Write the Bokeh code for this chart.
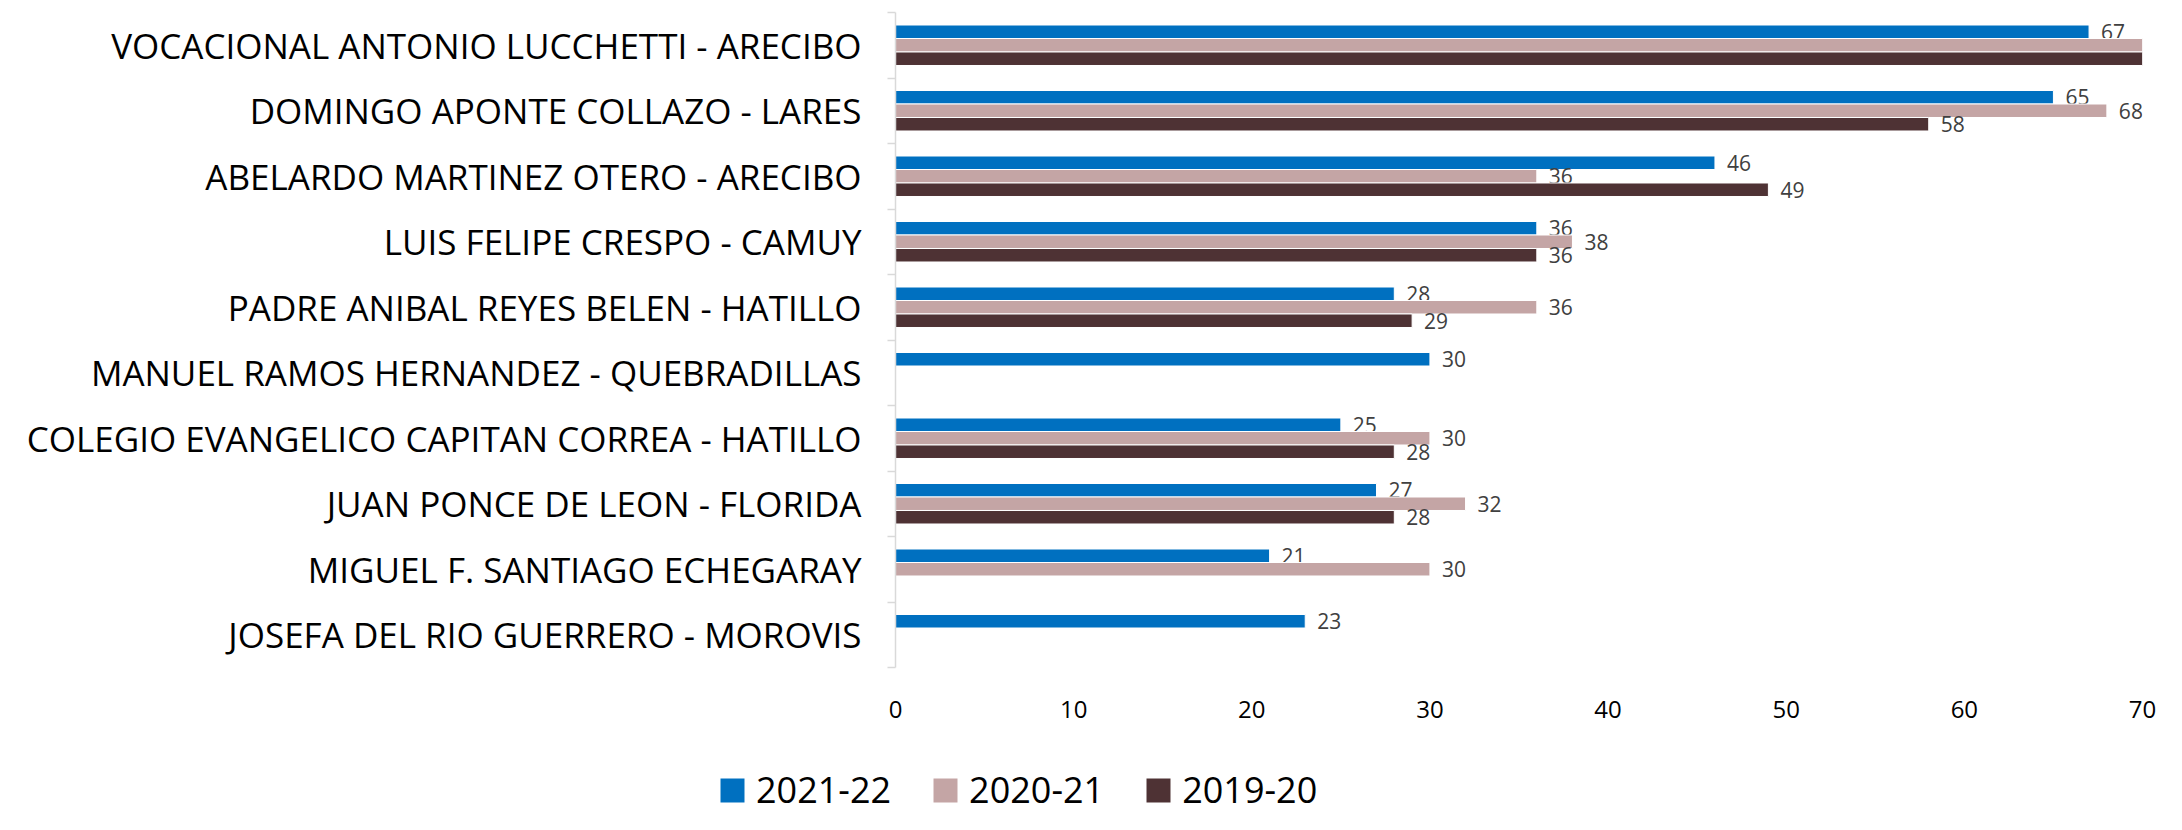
from bokeh.plotting import figure
from bokeh.layouts import column, row
from bokeh.models import (ColumnDataSource, FixedTicker, Legend, LegendItem, Range1d)
from bokeh.core.properties import value
from bokeh.embed import file_html
from bokeh.resources import INLINE

schools = [
    "VOCACIONAL ANTONIO LUCCHETTI - ARECIBO",
    "DOMINGO APONTE COLLAZO - LARES",
    "ABELARDO MARTINEZ OTERO - ARECIBO",
    "LUIS FELIPE CRESPO - CAMUY",
    "PADRE ANIBAL REYES BELEN - HATILLO",
    "MANUEL RAMOS HERNANDEZ - QUEBRADILLAS",
    "COLEGIO EVANGELICO CAPITAN CORREA - HATILLO",
    "JUAN PONCE DE LEON - FLORIDA",
    "MIGUEL F. SANTIAGO ECHEGARAY",
    "JOSEFA DEL RIO GUERRERO - MOROVIS",
]
s2021_22 = [67, 65, 46, 36, 28, 30, 25, 27, 21, 23]
s2020_21 = [72, 68, 36, 38, 36, None, 30, 32, 30, None]
s2019_20 = [72, 58, 49, 36, 29, None, 28, 28, None, None]
series_names = ["2021-22", "2020-21", "2019-20"]
series_values = [s2021_22, s2020_21, s2019_20]
colors = ["#0070C0", "#C4A5A5", "#4E3234"]
x_ticks = [0, 10, 20, 30, 40, 50, 60, 70]
x_max = 70

FONT = "Open Sans"
W = 2166
H_MAIN = 740
H_LEG = 74
n = len(schools)
centers = [n - i - 0.5 for i in range(n)]
bar_h = 0.206
offsets = [bar_h, 0.0, -bar_h]

p = figure(width=W, height=H_MAIN, output_backend="svg", toolbar_location=None,
           x_range=Range1d(0, x_max), y_range=Range1d(0, n),
           min_border_left=895, min_border_right=24,
           min_border_top=12, min_border_bottom=H_MAIN - 667)
p.outline_line_color = None
p.xgrid.visible = False
p.ygrid.visible = False
p.background_fill_color = "white"
p.border_fill_color = "white"

sources = []
for name, vals, col, off in zip(series_names, series_values, colors, offsets):
    ys, vs = [], []
    for c, v in zip(centers, vals):
        if v is None:
            continue
        ys.append(c + off)
        vs.append(v)
    src = ColumnDataSource(dict(y=ys, v=vs))
    sources.append(src)
    p.hbar(y="y", left=0, right="v", height=bar_h, source=src,
           fill_color=col, line_color="white", line_width=1)
    # data labels only for values inside the axis range (as in the original)
    ly = [y for y, v in zip(ys, vs) if v <= x_max]
    lv = [v for v in vs if v <= x_max]
    lsrc = ColumnDataSource(dict(y=ly, v=lv, lab=[str(v) for v in lv]))
    p.text(x="v", y="y", text="lab", source=lsrc, x_offset=12,
           text_baseline="middle", text_align="left",
           text_font=value(FONT), text_font_size="21px", text_color="#404040")

# y axis: labels at centers, tick marks at category boundaries
p.yaxis.ticker = FixedTicker(ticks=centers, minor_ticks=list(range(n + 1)))
p.yaxis.major_label_overrides = {c: s for c, s in zip(centers, schools)}
p.yaxis.major_tick_out = 0
p.yaxis.major_tick_in = 0
p.yaxis.minor_tick_out = 8
p.yaxis.minor_tick_in = 0
p.yaxis.minor_tick_line_color = "#D9D9D9"
p.yaxis.minor_tick_line_width = 1.5
p.yaxis.axis_line_color = "#D9D9D9"
p.yaxis.axis_line_width = 1.5
p.yaxis.major_label_standoff = 26
p.yaxis.major_label_text_font = FONT
p.yaxis.major_label_text_font_size = "35px"
p.yaxis.major_label_text_color = "#000000"

# x axis
p.xaxis.ticker = FixedTicker(ticks=x_ticks)
p.xaxis.axis_line_color = None
p.xaxis.major_tick_out = 0
p.xaxis.major_tick_in = 0
p.xaxis.minor_tick_out = 0
p.xaxis.minor_tick_in = 0
p.xaxis.major_label_standoff = 33
p.xaxis.major_label_text_font = FONT
p.xaxis.major_label_text_font_size = "24px"
p.xaxis.major_label_text_color = "#000000"

# legend strip below the chart (same series, drawn off-range so only the legend shows)
pl = figure(width=W, height=H_LEG, output_backend="svg", toolbar_location=None,
            x_range=Range1d(0, x_max), y_range=Range1d(n + 100, n + 101),
            min_border_left=0, min_border_right=0,
            min_border_top=0, min_border_bottom=0)
pl.axis.visible = False
pl.grid.visible = False
pl.outline_line_color = None
pl.background_fill_color = "white"
pl.border_fill_color = "white"
items = []
for name, col, src in zip(series_names, colors, sources):
    r = pl.hbar(y="y", left=0, right="v", height=bar_h, source=src,
                fill_color=col, line_color=None)
    items.append(LegendItem(label=name, renderers=[r]))
legend = Legend(items=items, orientation="horizontal", location=(717, 0),
                glyph_width=30, glyph_height=30, label_standoff=9, spacing=39,
                padding=0, margin=0, border_line_color=None,
                background_fill_alpha=0,
                label_text_font=FONT, label_text_font_size="36px",
                label_text_color="#000000")
pl.add_layout(legend, "center")

layout = column(p, row(pl, spacing=0), spacing=0)
open("out.html", "w").write(file_html(layout, INLINE))
